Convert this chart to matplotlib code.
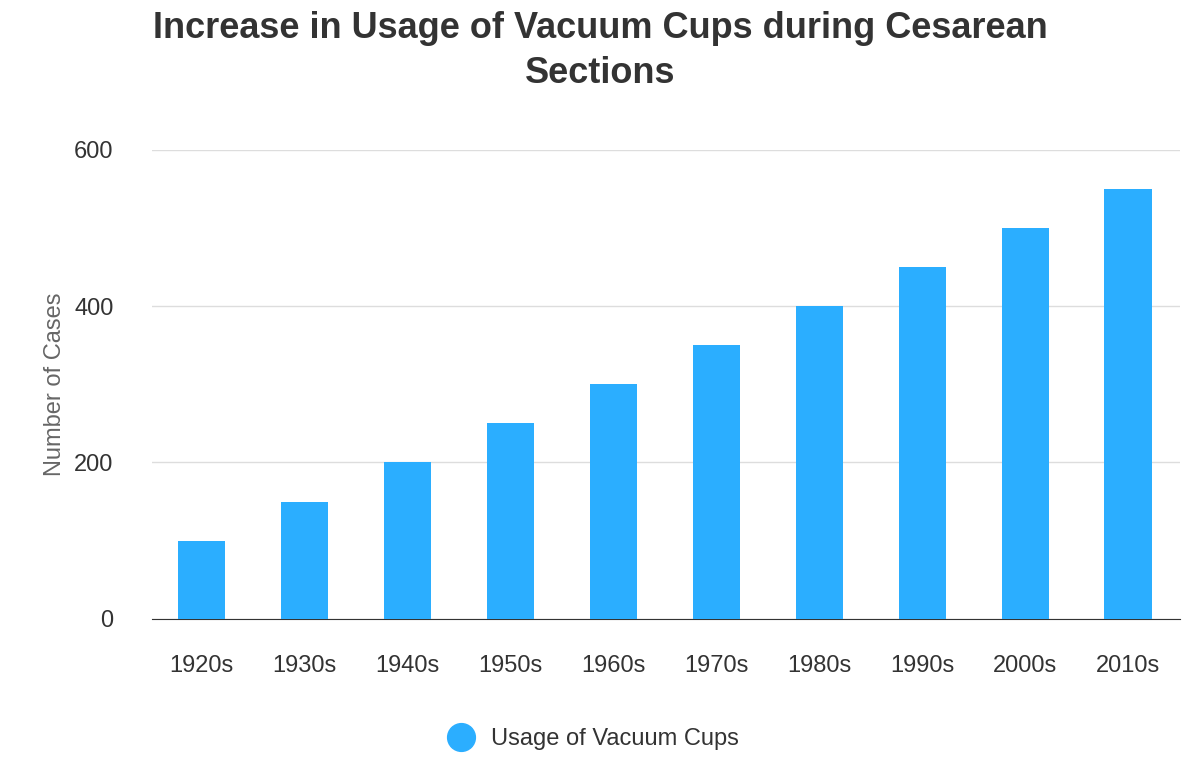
import matplotlib.pyplot as plt

decades = ["1920s", "1930s", "1940s", "1950s", "1960s", "1970s", "1980s", "1990s", "2000s", "2010s"]
usage = [100, 150, 200, 250, 300, 350, 400, 450, 500, 550]

plt.rcParams["font.family"] = "Liberation Sans"

fig = plt.figure(figsize=(12, 7.64), dpi=100)
ax = fig.add_axes([0.127, 0.19, 0.856, 0.614])

ax.bar(range(len(decades)), usage, width=0.46, color="#2BAEFF", zorder=3)
ax.set_xlim(-0.48, 9.5)
ax.set_ylim(0, 600)
ax.set_yticks([0, 200, 400, 600])
ax.set_xticks(range(len(decades)))
ax.set_xticklabels(decades)
ax.tick_params(axis="both", length=0, labelsize=17, colors="#333333")
ax.tick_params(axis="x", pad=26)
ax.tick_params(axis="y", pad=28)
ax.grid(axis="y", color="#dddddd", linewidth=1, zorder=0)
for s in ["top", "right", "left"]:
    ax.spines[s].set_visible(False)
ax.spines["bottom"].set_color("#333333")
ax.set_ylabel("Number of Cases", fontsize=17, color="#666666", labelpad=6)

fig.suptitle("Increase in Usage of Vacuum Cups during Cesarean\nSections",
             fontsize=26, fontweight="bold", color="#333333", y=0.985,
             linespacing=1.35, x=0.5)

m = plt.Line2D([], [], marker="o", linestyle="", markersize=20, color="#2BAEFF")
fig.legend([m], ["Usage of Vacuum Cups"], loc="lower center",
           bbox_to_anchor=(0.49, -0.01), frameon=False, fontsize=17,
           labelcolor="#333333", handletextpad=0.3)

fig.savefig("out.png")
